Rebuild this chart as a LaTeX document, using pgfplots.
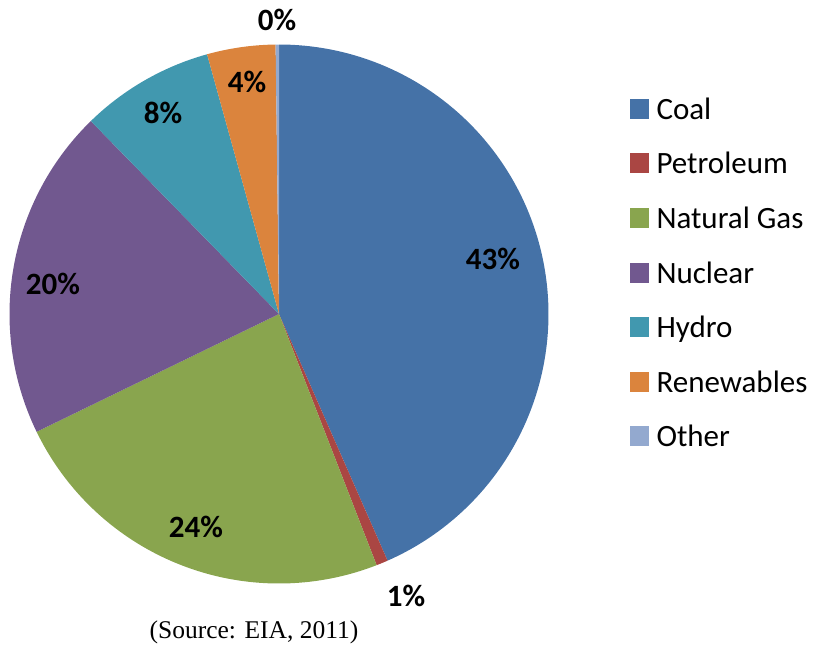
\documentclass[border=0pt]{standalone}
\usepackage{fontspec}
\setmainfont{Carlito}
\newfontfamily\srcfont{Liberation Serif}
\usepackage{pgfplots}
\usepackage{pgfplotstable}
\usepgfplotslibrary{polar}
\pgfplotsset{compat=1.18}

\definecolor{pie0}{HTML}{4572A7}
\definecolor{pie1}{HTML}{AA4643}
\definecolor{pie2}{HTML}{89A54E}
\definecolor{pie3}{HTML}{71588F}
\definecolor{pie4}{HTML}{4198AF}
\definecolor{pie5}{HTML}{DB843D}
\definecolor{pie6}{HTML}{93A9CF}

\pgfplotstableread{
name value
Coal 43.4
Petroleum 0.7
NaturalGas 23.7
Nuclear 19.9
Hydro 8.0
Renewables 4.1
Other 0.2
}\pietable

% cumulative start / end angles (clockwise from the top)
\def\cum{0}
\pgfplotsforeachungrouped \i in {0,...,6}{%
  \pgfplotstablegetelem{\i}{value}\of\pietable
  \pgfmathsetmacro\st{90-3.6*\cum}%
  \pgfmathsetmacro\cum{\cum+\pgfplotsretval}%
  \pgfmathsetmacro\en{90-3.6*\cum}%
  \expandafter\xdef\csname pieS\i\endcsname{\st}%
  \expandafter\xdef\csname pieE\i\endcsname{\en}%
}

\pgfplotsset{pielegend/.style={legend image code/.code={\fill[#1] (0bp,-7bp) rectangle (19bp,13bp); \path (27bp,0bp);}}}

\begin{document}
\begin{tikzpicture}
\path[use as bounding box] (0bp,0bp) rectangle (817bp,645bp);
\begin{polaraxis}[
  hide axis,
  ymin=0, ymax=1,
  width=539bp, scale only axis,
  at={(279bp,331bp)}, anchor=center,
  clip=false,
  legend cell align=left,
  pielegend,
  legend style={at={(axis description cs:1.1503,0.9019)}, anchor=north west,
    draw=none, fill=none, inner sep=0pt, outer sep=0pt, row sep=25.55bp,
    font=\fontsize{31bp}{37bp}\selectfont,
    nodes={inner sep=0pt, text height=22bp, text depth=7bp}},
]
\pgfplotsinvokeforeach{0,...,6}{%
  \edef\temp{\noexpand\addplot[fill=pie#1, draw=none, domain=\csname pieE#1\endcsname:\csname pieS#1\endcsname, samples=150] {1} -- (axis cs:0,0) -- cycle;}%
  \temp
}
\legend{Coal,Petroleum,Natural Gas,Nuclear,Hydro,Renewables,Other}
\end{polaraxis}
\begin{scope}[every node/.style={font=\fontsize{31bp}{37bp}\selectfont\bfseries, inner sep=0pt}]
\node at (493bp,386bp) {43\%};
\node at (406bp,49bp) {1\%};
\node at (196bp,118bp) {24\%};
\node at (53bp,361bp) {20\%};
\node at (163bp,532bp) {8\%};
\node at (247bp,563bp) {4\%};
\node at (277bp,625bp) {0\%};
\end{scope}
\node[font=\srcfont\fontsize{25.5bp}{30bp}\selectfont, inner sep=0pt] at (254bp,13bp) {(Source: EIA, 2011)};
\end{tikzpicture}
\end{document}
